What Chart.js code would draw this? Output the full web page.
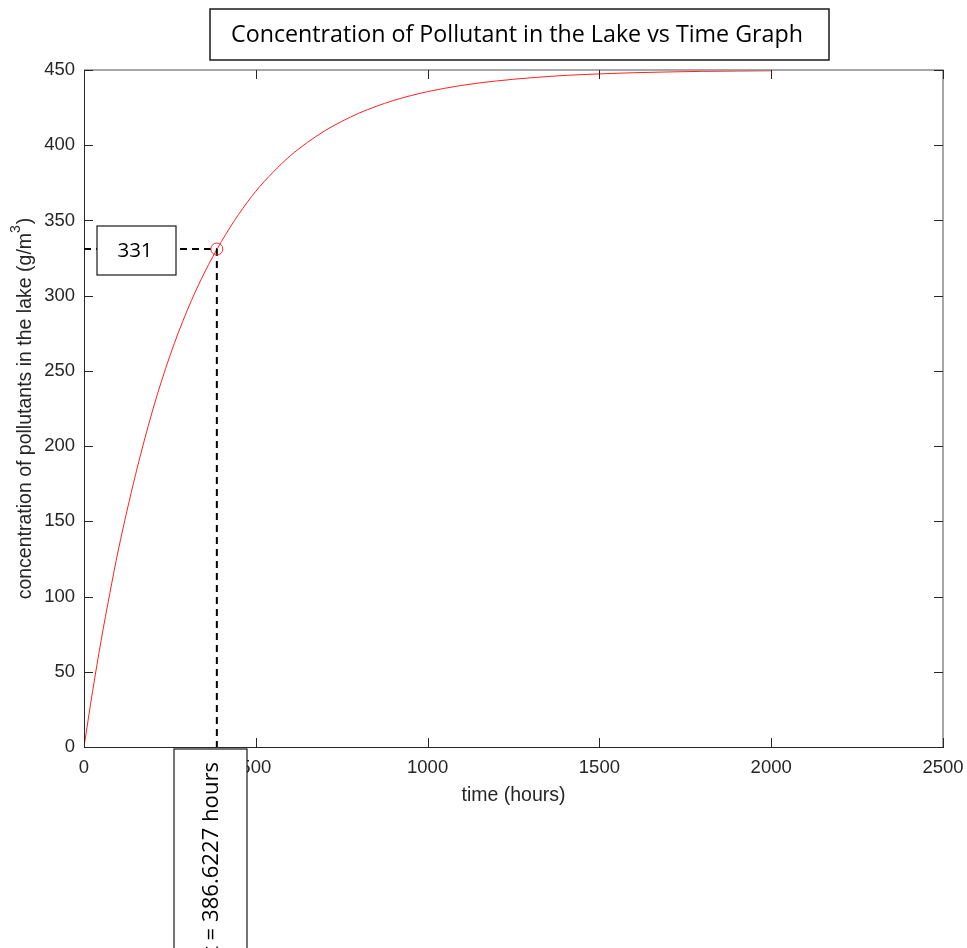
<!DOCTYPE html>
<html>
<head>
<meta charset="utf-8">
<script src="https://cdn.jsdelivr.net/npm/chart.js@4.4.1/dist/chart.umd.min.js"></script>
<style>
  html, body { margin: 0; padding: 0; background: #ffffff; }
  #wrap { width: 967px; height: 948px; }
</style>
</head>
<body>
<div id="wrap"><canvas id="c" width="967" height="948"></canvas></div>
<script>
// ---- data ----
const hours = [0, 25, 50, 75, 100, 150, 200, 250, 300, 350, 400, 450, 500, 550, 600, 650, 700, 750, 800, 850, 900, 950, 1000, 1100, 1200, 1300, 1400, 1500, 1600, 1700, 1800, 1900, 2000];
const concentration = [0, 37, 71, 102, 131, 181, 224, 260, 290, 315, 336, 354, 369.4, 382, 392.9, 401.8, 409.5, 415.8, 421.3, 425.8, 429.7, 432.9, 435.6, 439.8, 442.7, 444.8, 446.4, 447.4, 448.2, 448.7, 449.1, 449.3, 449.5];
const markHours = [386.6227];
const markConcentration = [331];
const xTickValues = [0, 500, 1000, 1500, 2000, 2500];
const yTickValues = [0, 50, 100, 150, 200, 250, 300, 350, 400, 450];
const titleText = "Concentration of Pollutant in the Lake vs Time Graph";
const xTitle = "time (hours)";
const yTitleMain = "concentration of pollutants in the lake (g/m";
const yTitleSup = "3";
const yTitleEnd = ")";
const valueLabel = "331";
const timeLabel = "t = 386.6227 hours";

const AX = '#262626';
const TICK_FAMILY = '"Liberation Sans", Arial, sans-serif';

function drawFit(ctx, text, x, y, targetW) {
  const w = ctx.measureText(text).width;
  ctx.save();
  ctx.translate(x, y);
  ctx.scale(targetW / w, 1);
  ctx.fillText(text, 0, 0);
  ctx.restore();
}

const decor = {
  id: 'decor',
  afterDraw(chart) {
    const ctx = chart.ctx;
    const a = chart.chartArea;
    const xs = chart.scales.x, ys = chart.scales.y;
    ctx.save();
    // box: top and right edges (grey)
    ctx.strokeStyle = '#8a8a8a';
    ctx.lineWidth = 1.5;
    ctx.beginPath();
    ctx.moveTo(a.left, a.top); ctx.lineTo(a.right, a.top); ctx.lineTo(a.right, a.bottom);
    ctx.stroke();
    // inward ticks
    ctx.strokeStyle = AX;
    ctx.lineWidth = 1;
    const TL = 9;
    ctx.beginPath();
    xTickValues.forEach(v => {
      const px = Math.round(xs.getPixelForValue(v)) + 0.5;
      ctx.moveTo(px, a.bottom); ctx.lineTo(px, a.bottom - TL);
      ctx.moveTo(px, a.top); ctx.lineTo(px, a.top + TL);
    });
    yTickValues.forEach(v => {
      const py = Math.round(ys.getPixelForValue(v)) + 0.5;
      ctx.moveTo(a.left, py); ctx.lineTo(a.left + TL, py);
      ctx.moveTo(a.right, py); ctx.lineTo(a.right - TL, py);
    });
    ctx.stroke();

    // axis titles
    ctx.fillStyle = AX;
    ctx.font = '19.5px ' + TICK_FAMILY;
    ctx.textAlign = 'center';
    ctx.textBaseline = 'middle';
    ctx.fillText(xTitle, (a.left + a.right) / 2, 796);

    // y title rotated with superscript
    ctx.save();
    ctx.translate(26, (a.top + a.bottom) / 2);
    ctx.rotate(-Math.PI / 2);
    ctx.textAlign = 'left';
    ctx.textBaseline = 'middle';
    const mainFont = '19.5px ' + TICK_FAMILY;
    const supFont = '14px ' + TICK_FAMILY;
    ctx.font = mainFont;
    const w1 = ctx.measureText(yTitleMain).width;
    const w3 = ctx.measureText(yTitleEnd).width;
    ctx.font = supFont;
    const w2 = ctx.measureText(yTitleSup).width;
    const total = w1 + w2 + w3 + 1;
    let cx = -total / 2;
    ctx.font = mainFont;
    ctx.fillText(yTitleMain, cx, 0);
    cx += w1;
    ctx.font = supFont;
    ctx.fillText(yTitleSup, cx, -10);
    cx += w2 + 1;
    ctx.font = mainFont;
    ctx.fillText(yTitleEnd, cx, 0);
    ctx.restore();

    // title box
    ctx.fillStyle = '#ffffff';
    ctx.strokeStyle = '#1a1a1a';
    ctx.lineWidth = 1.5;
    ctx.fillRect(210, 9, 619, 51);
    ctx.strokeRect(210, 9, 619, 51);
    ctx.fillStyle = '#000000';
    ctx.font = '24px "Open Sans", sans-serif';
    ctx.textAlign = 'center';
    ctx.textBaseline = 'middle';
    drawFit(ctx, titleText, 517, 35, 572);

    // value box "331"
    ctx.fillStyle = '#ffffff';
    ctx.fillRect(97, 226, 79, 49);
    ctx.strokeStyle = '#1a1a1a';
    ctx.lineWidth = 1.2;
    ctx.strokeRect(97, 226, 79, 49);
    ctx.fillStyle = '#000000';
    ctx.font = '20.5px "Open Sans", sans-serif';
    ctx.fillText(valueLabel, 135, 251);

    // vertical time box
    ctx.fillStyle = '#ffffff';
    ctx.fillRect(174, 749, 73, 230);
    ctx.strokeRect(174, 749, 73, 230);
    ctx.fillStyle = '#000000';
    ctx.save();
    ctx.translate(211.5, 762);
    ctx.rotate(-Math.PI / 2);
    ctx.font = '22px "Open Sans", sans-serif';
    ctx.textAlign = 'right';
    ctx.textBaseline = 'middle';
    const tw = ctx.measureText(timeLabel).width;
    ctx.scale(192 / tw, 1);
    ctx.fillText(timeLabel, 0, 0);
    ctx.restore();

    ctx.restore();
  }
};

const curvePts = hours.map((t, i) => ({ x: t, y: concentration[i] }));
const markPts = markHours.map((t, i) => ({ x: t, y: markConcentration[i] }));
const hLine = [{ x: 0, y: markConcentration[0] }, { x: markHours[0], y: markConcentration[0] }];
const vLine = [{ x: markHours[0], y: markConcentration[0] }, { x: markHours[0], y: 0 }];

new Chart(document.getElementById('c'), {
  type: 'line',
  data: {
    datasets: [
      { data: markPts, showLine: false, pointRadius: 6, pointHoverRadius: 6, pointBorderColor: '#ff3030', pointBackgroundColor: 'rgba(0,0,0,0)', pointBorderWidth: 1, order: 0 },
      { data: hLine, borderColor: '#000000', borderWidth: 2, borderDash: [7, 5], pointRadius: 0, order: 1 },
      { data: vLine, borderColor: '#000000', borderWidth: 2, borderDash: [7, 5], pointRadius: 0, order: 1 },
      { data: curvePts, borderColor: '#ff2020', borderWidth: 1, pointRadius: 0, cubicInterpolationMode: 'monotone', order: 2 }
    ]
  },
  options: {
    responsive: false,
    animation: false,
    devicePixelRatio: 1,
    layout: { padding: { top: 70, right: 24, left: 0, bottom: 0 } },
    plugins: { legend: { display: false }, tooltip: { enabled: false }, title: { display: false } },
    scales: {
      x: {
        type: 'linear', min: 0, max: 2500, position: 'bottom',
        afterBuildTicks: s => { s.ticks = xTickValues.map(v => ({ value: v })); },
        afterFit: s => { s.height = 201; s.paddingLeft = 0; s.paddingRight = 0; },
        grid: { display: false, drawTicks: false },
        border: { display: true, color: AX, width: 1 },
        ticks: { color: AX, font: { family: TICK_FAMILY, size: 18.5 }, padding: 10, maxRotation: 0, autoSkip: false, callback: v => String(v) }
      },
      y: {
        type: 'linear', min: 0, max: 450, position: 'left',
        afterBuildTicks: s => { s.ticks = yTickValues.map(v => ({ value: v })); },
        afterFit: s => { s.width = 84; s.paddingTop = 0; s.paddingBottom = 0; },
        grid: { display: false, drawTicks: false },
        border: { display: true, color: AX, width: 1 },
        ticks: { color: AX, font: { family: TICK_FAMILY, size: 18.5 }, padding: 9, autoSkip: false, callback: v => String(v) }
      }
    }
  },
  plugins: [decor]
});
</script>
</body>
</html>
